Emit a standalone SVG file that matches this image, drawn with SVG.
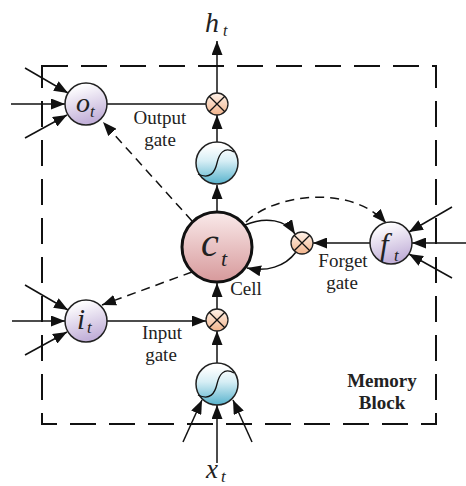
<svg xmlns="http://www.w3.org/2000/svg" width="466" height="486" viewBox="0 0 466 486">
<style>
.ln{fill:none;stroke:#111;stroke-width:1.5}
.dl{fill:none;stroke:#111;stroke-width:1.5;stroke-dasharray:9 6}
.gate{fill:url(#gPurple);stroke:#222;stroke-width:1.5}
.sig{fill:url(#gBlue);stroke:#222;stroke-width:1.5}
.mul{fill:url(#gPeach);stroke:#222;stroke-width:1.3}
.lbl{font-family:"Liberation Serif",serif;font-size:19px;fill:#222;text-anchor:middle}
.bold{font-weight:bold}
.m{font-family:"Liberation Serif",serif;font-style:italic;fill:#222}
</style>
<defs>
<linearGradient id="gPurple" x1="0" y1="0" x2="0.3" y2="1"><stop offset="0.15" stop-color="#ffffff"/><stop offset="1" stop-color="#c3b1d9"/></linearGradient>
<linearGradient id="gBlue" x1="0" y1="0" x2="0" y2="1"><stop offset="0.1" stop-color="#ffffff"/><stop offset="0.45" stop-color="#d6eef5"/><stop offset="1" stop-color="#58b3cd"/></linearGradient>
<linearGradient id="gPeach" x1="0" y1="0" x2="0" y2="1"><stop offset="0" stop-color="#fff3ea"/><stop offset="1" stop-color="#f2b48c"/></linearGradient>
<linearGradient id="gRed" x1="0" y1="0" x2="0" y2="1"><stop offset="0" stop-color="#faeaea"/><stop offset="1" stop-color="#d7999b"/></linearGradient>
<marker id="ah" viewBox="0 0 14 11" refX="14" refY="5.5" markerWidth="14" markerHeight="11" markerUnits="userSpaceOnUse" orient="auto"><path d="M0,0 L14,5.5 L0,11 z" fill="#111"/></marker>
</defs>

<g id="memory-block">
<path d="M42,66 H436 V424 H42 Z" fill="none" stroke="#111" stroke-width="2" stroke-dasharray="26 13"/>
<text class="lbl bold" x="382" y="387">Memory</text>
<text class="lbl bold" x="382" y="409">Block</text>
</g>

<g id="connectors">
<path class="ln" d="M25,68 L68,93" marker-end="url(#ah)"/>
<path class="ln" d="M11,104 L65,104" marker-end="url(#ah)"/>
<path class="ln" d="M25,138 L67,115" marker-end="url(#ah)"/>
<path class="ln" d="M25,285 L68,310" marker-end="url(#ah)"/>
<path class="ln" d="M12,321 L65,321" marker-end="url(#ah)"/>
<path class="ln" d="M25,355 L67,332" marker-end="url(#ah)"/>
<path class="ln" d="M452,207 L409,232" marker-end="url(#ah)"/>
<path class="ln" d="M466,243 L412,243" marker-end="url(#ah)"/>
<path class="ln" d="M452,278 L409,254" marker-end="url(#ah)"/>
<path class="ln" d="M217,463 L217,405" marker-end="url(#ah)"/>
<path class="ln" d="M183,442 L202,400" marker-end="url(#ah)"/>
<path class="ln" d="M252,442 L233,400" marker-end="url(#ah)"/>
<path class="ln" d="M217,363 L217,331" marker-end="url(#ah)"/>
<path class="ln" d="M217,309 L217,283" marker-end="url(#ah)"/>
<path class="ln" d="M217,212 L217,185" marker-end="url(#ah)"/>
<path class="ln" d="M217,142 L217,115" marker-end="url(#ah)"/>
<path class="ln" d="M217,93 L217,41" marker-end="url(#ah)"/>
<path class="ln" d="M107,104 L206,104"/>
<path class="ln" d="M107,321 L206,321" marker-end="url(#ah)"/>
<path class="ln" d="M370,243 L313,243" marker-end="url(#ah)"/>
<path class="ln" d="M245,225 C266,216 286,220 295,234" marker-end="url(#ah)"/>
<path class="ln" d="M296,252 C285,267 266,272 247,268" marker-end="url(#ah)"/>
<path class="dl" d="M192,221 L103,122" marker-end="url(#ah)"/>
<path class="dl" d="M192,272 L102,305" marker-end="url(#ah)"/>
<path class="dl" d="M246,222 C272,195 350,183 386,223" marker-end="url(#ah)"/>
</g>

<g id="o_t">
<circle class="gate" cx="86" cy="104" r="21"/>
<text class="m" x="76" y="112" font-size="28">o</text>
<text class="m" x="90" y="117" font-size="17">t</text>
</g>
<g id="i_t">
<circle class="gate" cx="86" cy="321" r="21"/>
<text class="m" x="77" y="329" font-size="29">i</text>
<text class="m" x="87" y="333" font-size="17">t</text>
</g>
<g id="f_t">
<circle class="gate" cx="391" cy="243" r="21"/>
<text class="m" x="380" y="255" font-size="31">f</text>
<text class="m" x="394" y="261" font-size="17">t</text>
</g>
<g id="c_t">
<circle cx="217" cy="247" r="35" fill="url(#gRed)" stroke="#111" stroke-width="3"/>
<text class="m" x="201" y="256" font-size="40">c</text>
<text class="m" x="221" y="266" font-size="22">t</text>
</g>
<g id="sigma_out">
<circle class="sig" cx="217" cy="163" r="21"/>
<path d="M198,174 C210,180 215,172 217,163 C219,154 224,146 234,152" fill="none" stroke="#111" stroke-width="1.3"/>
</g>
<g id="sigma_in">
<circle class="sig" cx="217" cy="384" r="21"/>
<path d="M198,395 C210,401 215,393 217,384 C219,375 224,367 234,373" fill="none" stroke="#111" stroke-width="1.3"/>
</g>
<g id="mul_out">
<circle class="mul" cx="217" cy="104" r="11"/>
<path d="M209.2,96.2 L224.8,111.8 M224.8,96.2 L209.2,111.8" stroke="#111" stroke-width="1.3"/>
</g>
<g id="mul_in">
<circle class="mul" cx="217" cy="320" r="11"/>
<path d="M209.2,312.2 L224.8,327.8 M224.8,312.2 L209.2,327.8" stroke="#111" stroke-width="1.3"/>
</g>
<g id="mul_forget">
<circle class="mul" cx="302" cy="243" r="11"/>
<path d="M294.2,235.2 L309.8,250.8 M309.8,235.2 L294.2,250.8" stroke="#111" stroke-width="1.3"/>
</g>

<g id="labels">
<text class="lbl" x="160" y="124">Output</text>
<text class="lbl" x="160" y="146">gate</text>
<text class="lbl" x="162" y="339">Input</text>
<text class="lbl" x="161" y="361">gate</text>
<text class="lbl" x="343" y="267">Forget</text>
<text class="lbl" x="342" y="289">gate</text>
<text class="lbl" x="246" y="295">Cell</text>
</g>
<g id="h_t">
<text class="m" x="205" y="32" font-size="28">h</text>
<text class="m" x="223" y="36" font-size="16">t</text>
</g>
<g id="x_t">
<text class="m" x="206" y="478" font-size="27">x</text>
<text class="m" x="221" y="482" font-size="17">t</text>
</g>
</svg>
